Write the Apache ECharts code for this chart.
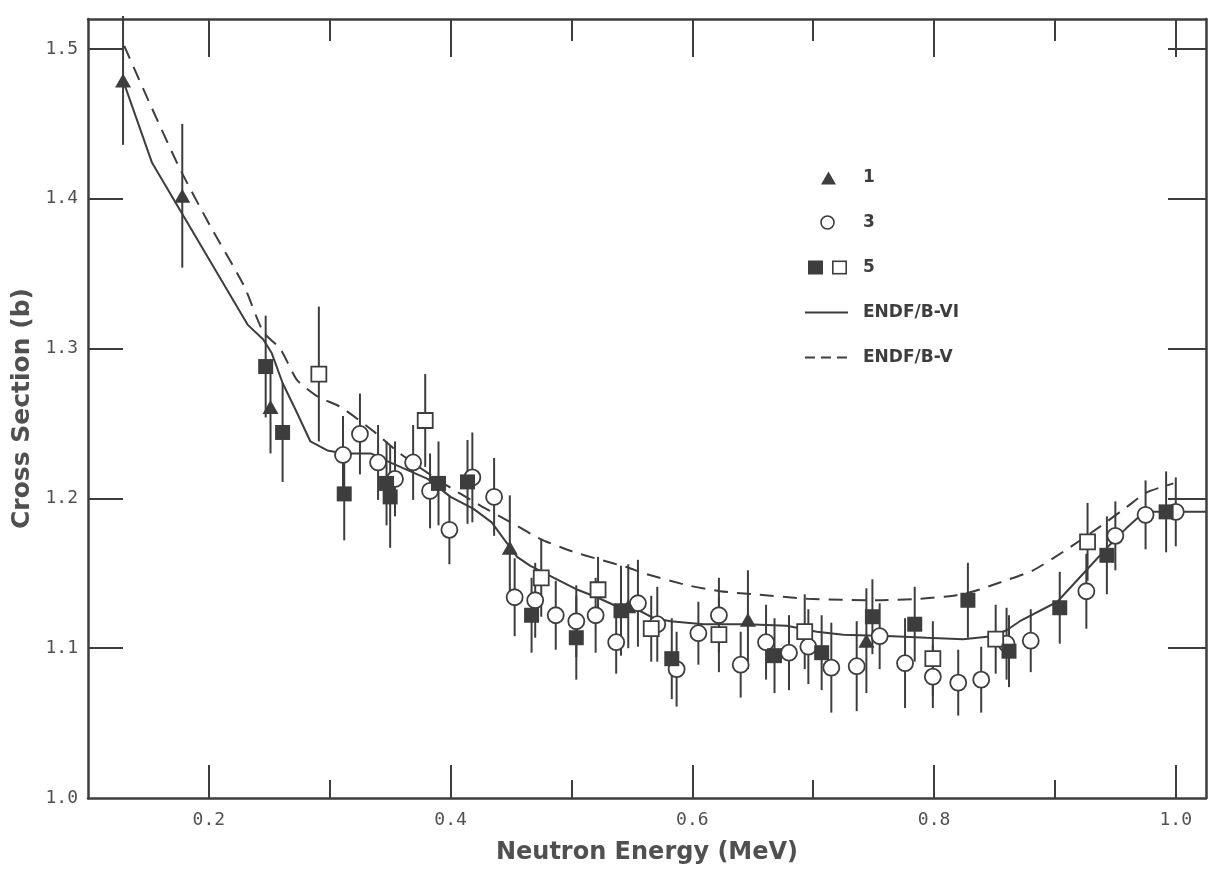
<!DOCTYPE html>
<html>
<head>
<meta charset="utf-8">
<title>Cross Section vs Neutron Energy</title>
<script src="https://cdn.jsdelivr.net/npm/echarts@6.0.0/dist/echarts.min.js"></script>
<style>
html, body { margin: 0; padding: 0; background: #fff; }
#chart { width: 1223px; height: 877px; }
</style>
</head>
<body>
<div id="chart"></div>
<script>
// data set 1 (filled triangles)
const set1Energy = [0.129, 0.178, 0.251, 0.449, 0.547, 0.646, 0.744];
const set1Xs = [1.479, 1.402, 1.261, 1.167, 1.128, 1.119, 1.105];
const set1Err = [0.043, 0.048, 0.031, 0.035, 0.028, 0.033, 0.035];

// data set 3 (open circles)
const set3Energy = [0.311, 0.325, 0.340, 0.354, 0.369, 0.383, 0.399, 0.418, 0.436, 0.453,
    0.470, 0.487, 0.504, 0.520, 0.537, 0.555, 0.571, 0.587, 0.605, 0.622,
    0.640, 0.661, 0.680, 0.696, 0.715, 0.736, 0.755, 0.776, 0.799, 0.820,
    0.839, 0.860, 0.880, 0.926, 0.950, 0.975, 1.000];
const set3Xs = [1.229, 1.243, 1.224, 1.213, 1.224, 1.205, 1.179, 1.214, 1.201, 1.134,
    1.132, 1.122, 1.118, 1.122, 1.104, 1.130, 1.116, 1.086, 1.110, 1.122,
    1.089, 1.104, 1.097, 1.101, 1.087, 1.088, 1.108, 1.090, 1.081, 1.077,
    1.079, 1.103, 1.105, 1.138, 1.175, 1.189, 1.191];
const set3Err = [0.026, 0.027, 0.025, 0.025, 0.025, 0.025, 0.023, 0.030, 0.026, 0.026,
    0.025, 0.023, 0.024, 0.025, 0.021, 0.029, 0.025, 0.025, 0.021, 0.025,
    0.022, 0.025, 0.025, 0.025, 0.030, 0.030, 0.022, 0.030, 0.021, 0.022,
    0.022, 0.024, 0.021, 0.025, 0.023, 0.023, 0.023];

// data set 5 (filled squares)
const set5FilledEnergy = [0.247, 0.261, 0.312, 0.347, 0.350, 0.390, 0.414, 0.467, 0.504, 0.541,
    0.583, 0.668, 0.707, 0.749, 0.784, 0.828, 0.862, 0.904, 0.943, 0.992];
const set5FilledXs = [1.288, 1.244, 1.203, 1.210, 1.201, 1.210, 1.211, 1.122, 1.107, 1.125,
    1.093, 1.095, 1.097, 1.121, 1.116, 1.132, 1.098, 1.127, 1.162, 1.191];
const set5FilledErr = [0.034, 0.033, 0.031, 0.028, 0.034, 0.028, 0.028, 0.025, 0.028, 0.030,
    0.027, 0.025, 0.025, 0.025, 0.025, 0.025, 0.024, 0.024, 0.026, 0.027];

// data set 5 (open squares)
const set5OpenEnergy = [0.291, 0.379, 0.475, 0.522, 0.566, 0.622, 0.693, 0.799, 0.851, 0.927];
const set5OpenXs = [1.283, 1.252, 1.147, 1.139, 1.113, 1.109, 1.111, 1.093, 1.106, 1.171];
const set5OpenErr = [0.045, 0.031, 0.026, 0.022, 0.022, 0.025, 0.025, 0.025, 0.023, 0.026];

// evaluations
const endf6Energy = [0.129, 0.153, 0.232, 0.245, 0.252, 0.261, 0.273, 0.284, 0.298, 0.312,
    0.334, 0.347, 0.364, 0.381, 0.400, 0.419, 0.434, 0.444, 0.455, 0.466,
    0.488, 0.505, 0.521, 0.540, 0.554, 0.568, 0.582, 0.609, 0.645, 0.678,
    0.703, 0.725, 0.766, 0.794, 0.824, 0.848, 0.860, 0.871, 0.902, 0.926,
    0.943, 0.959, 0.970, 0.981, 1.025];
const endf6Xs = [1.479, 1.424, 1.316, 1.306, 1.297, 1.277, 1.257, 1.238, 1.232, 1.230,
    1.230, 1.225, 1.219, 1.213, 1.201, 1.193, 1.184, 1.173, 1.161, 1.155,
    1.146, 1.139, 1.134, 1.127, 1.126, 1.120, 1.118, 1.116, 1.116, 1.115,
    1.111, 1.109, 1.108, 1.107, 1.106, 1.108, 1.112, 1.118, 1.131, 1.152,
    1.167, 1.180, 1.188, 1.191, 1.191];
const endf5Energy = [0.130, 0.152, 0.176, 0.201, 0.229, 0.245, 0.259, 0.273, 0.290, 0.309,
    0.336, 0.358, 0.381, 0.394, 0.425, 0.452, 0.474, 0.499, 0.524, 0.546,
    0.560, 0.596, 0.623, 0.651, 0.695, 0.753, 0.788, 0.816, 0.833, 0.855,
    0.882, 0.910, 0.937, 0.959, 0.976, 0.998];
const endf5Xs = [1.502, 1.462, 1.420, 1.382, 1.342, 1.311, 1.300, 1.279, 1.268, 1.261,
    1.245, 1.230, 1.217, 1.210, 1.195, 1.183, 1.173, 1.165, 1.159, 1.154,
    1.150, 1.142, 1.138, 1.136, 1.133, 1.132, 1.133, 1.135, 1.138, 1.144,
    1.152, 1.166, 1.181, 1.194, 1.204, 1.210];

// ticks
const xMajorTicks = [0.2, 0.4, 0.6, 0.8, 1.0];
const xMinorTicks = [0.3, 0.5, 0.7, 0.9];
const yTicks = [1.0, 1.1, 1.2, 1.3, 1.4, 1.5];

const ink = '#3d3d3d';
const textInk = '#505050';

function svgIcon(body) {
    return 'image://data:image/svg+xml;charset=utf-8,' + encodeURIComponent(
        '<svg xmlns="http://www.w3.org/2000/svg" width="44" height="16" viewBox="0 0 44 16">' + body + '</svg>');
}

function pairs(xs, ys) {
    return xs.map((x, i) => [x, ys[i]]);
}

function errorBars(name, energy, xs, err) {
    return {
        name: name,
        type: 'custom',
        z: 3,
        silent: true,
        renderItem: function (params, api) {
            const lo = api.coord([api.value(0), api.value(1)]);
            const hi = api.coord([api.value(0), api.value(2)]);
            return {
                type: 'line',
                shape: { x1: lo[0], y1: lo[1], x2: hi[0], y2: hi[1] },
                style: { stroke: ink, lineWidth: 2 }
            };
        },
        encode: { x: 0, y: [1, 2] },
        data: energy.map((e, i) => [e, xs[i] - err[i], xs[i] + err[i]])
    };
}

function xAxisBase(position, ticks, len, show) {
    return {
        type: 'value', min: 0.1, max: 1.025, position: position,
        axisLine: { show: show, lineStyle: { color: ink, width: 2.5 } },
        axisTick: { show: true, inside: true, length: len, customValues: ticks, lineStyle: { color: ink, width: 2 } },
        axisLabel: { show: false },
        splitLine: { show: false }
    };
}

const chart = echarts.init(document.getElementById('chart'));
chart.setOption({
    animation: false,
    backgroundColor: '#fff',
    grid: { left: 88, right: 17, top: 19, bottom: 79 },
    legend: {
        orient: 'vertical',
        left: 800,
        top: 164,
        itemWidth: 44,
        itemHeight: 16,
        itemGap: 28,
        selectedMode: false,
        textStyle: { fontFamily: 'DejaVu Sans', fontWeight: 'bold', fontSize: 17, color: ink, padding: [0, 0, 0, 9] },
        data: [
            { name: '1', icon: svgIcon('<polygon points="16,15 31,15 23.5,2" fill="' + ink + '"/>') },
            { name: '3', icon: svgIcon('<circle cx="22.5" cy="8" r="6.5" fill="#fff" stroke="' + ink + '" stroke-width="1.6"/>') },
            { name: '5', icon: svgIcon('<rect x="3" y="1" width="15" height="14" fill="' + ink + '"/>' +
                '<rect x="27.8" y="1.8" width="13.4" height="12.4" fill="#fff" stroke="' + ink + '" stroke-width="1.6"/>') },
            { name: 'ENDF/B-VI', icon: svgIcon('<line x1="0" y1="8" x2="43" y2="8" stroke="' + ink + '" stroke-width="2"/>') },
            { name: 'ENDF/B-V', icon: svgIcon('<line x1="0" y1="8" x2="43" y2="8" stroke="' + ink + '" stroke-width="2" stroke-dasharray="10 6"/>') }
        ]
    },
    xAxis: [
        Object.assign(xAxisBase('bottom', xMajorTicks, 33, true), {
            name: 'Neutron Energy (MeV)',
            nameLocation: 'middle',
            nameGap: 43,
            nameTextStyle: { fontFamily: 'DejaVu Sans', fontWeight: 'bold', fontSize: 24, color: textInk },
            axisLabel: {
                show: true, customValues: xMajorTicks, margin: 13,
                formatter: v => v.toFixed(1),
                fontFamily: 'DejaVu Sans Mono', fontSize: 18, color: textInk
            }
        }),
        xAxisBase('bottom', xMinorTicks, 18, false),
        xAxisBase('top', xMajorTicks, 38, true),
        xAxisBase('top', xMinorTicks, 22, false)
    ],
    yAxis: [
        {
            type: 'value', min: 1.0, max: 1.52, position: 'left',
            name: 'Cross Section (b)',
            nameLocation: 'middle',
            nameGap: 44,
            nameTextStyle: { fontFamily: 'DejaVu Sans', fontWeight: 'bold', fontSize: 25, color: textInk },
            axisLine: { show: true, lineStyle: { color: ink, width: 2.5 } },
            axisTick: { show: true, inside: true, length: 35, customValues: yTicks.slice(1), lineStyle: { color: ink, width: 2 } },
            axisLabel: {
                show: true, customValues: yTicks, margin: 10,
                formatter: v => v.toFixed(1),
                fontFamily: 'DejaVu Sans Mono', fontSize: 18, color: textInk
            },
            splitLine: { show: false }
        },
        {
            type: 'value', min: 1.0, max: 1.52, position: 'right',
            axisLine: { show: true, lineStyle: { color: ink, width: 2.5 } },
            axisTick: { show: true, inside: true, length: 38, customValues: yTicks.slice(1), lineStyle: { color: ink, width: 2 } },
            axisLabel: { show: false },
            splitLine: { show: false }
        }
    ],
    series: [
        {
            name: 'ENDF/B-VI', type: 'line', z: 2, symbol: 'none', silent: true,
            lineStyle: { color: ink, width: 2 },
            itemStyle: { color: ink },
            data: pairs(endf6Energy, endf6Xs)
        },
        {
            name: 'ENDF/B-V', type: 'line', z: 2, symbol: 'none', silent: true, smooth: 0.2,
            lineStyle: { color: ink, width: 2, type: [14, 9] },
            itemStyle: { color: ink },
            data: pairs(endf5Energy, endf5Xs)
        },
        errorBars('1', set1Energy, set1Xs, set1Err),
        errorBars('3', set3Energy, set3Xs, set3Err),
        errorBars('5', set5FilledEnergy, set5FilledXs, set5FilledErr),
        errorBars('5', set5OpenEnergy, set5OpenXs, set5OpenErr),
        {
            name: '3', type: 'scatter', z: 4, symbol: 'circle', symbolSize: 16,
            itemStyle: { color: '#fff', borderColor: ink, borderWidth: 1.8, opacity: 1 },
            data: pairs(set3Energy, set3Xs)
        },
        {
            name: '5', type: 'scatter', z: 4, symbol: 'rect', symbolSize: 15,
            itemStyle: { color: '#fff', borderColor: ink, borderWidth: 1.8, opacity: 1 },
            data: pairs(set5OpenEnergy, set5OpenXs)
        },
        {
            name: '5', type: 'scatter', z: 5, symbol: 'rect', symbolSize: 15,
            itemStyle: { color: ink, opacity: 1 },
            data: pairs(set5FilledEnergy, set5FilledXs)
        },
        {
            name: '1', type: 'scatter', z: 5, symbol: 'triangle', symbolSize: [16, 14],
            itemStyle: { color: ink, opacity: 1 },
            data: pairs(set1Energy, set1Xs)
        }
    ]
});
</script>
</body>
</html>
